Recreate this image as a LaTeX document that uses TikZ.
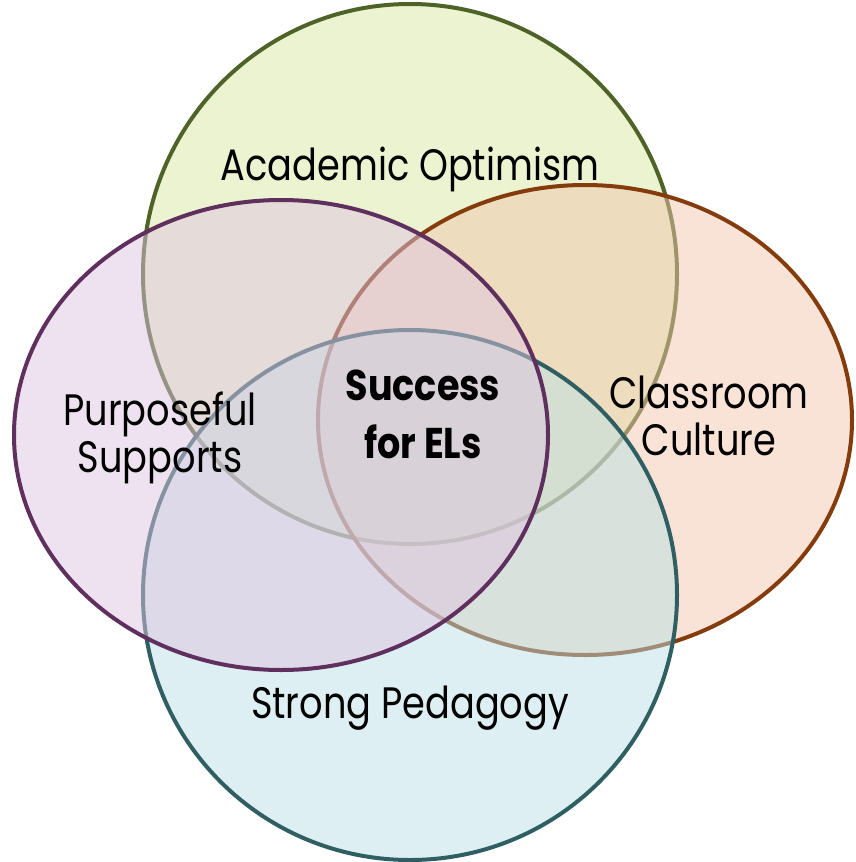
\documentclass[tikz,border=0pt]{standalone}
\usepackage{fontspec}
\usepackage{graphicx}
\setmainfont{Poppins}
\definecolor{optFill}{HTML}{D7E7A3}
\definecolor{optLine}{HTML}{4F6228}
\definecolor{culFill}{HTML}{F1C7AD}
\definecolor{culLine}{HTML}{843C0C}
\definecolor{pedFill}{HTML}{BBDFE5}
\definecolor{pedLine}{HTML}{2F5F62}
\definecolor{supFill}{HTML}{DFC5E1}
\definecolor{supLine}{HTML}{5F2F5E}
% narrower setting of the labels
\newcommand\tight[1]{\scalebox{0.835}[1]{#1}}
\newcommand\tightb[1]{\scalebox{0.85}[1]{#1}}
\tikzset{
  venn/.style={line width=4pt, fill opacity=0.5, draw opacity=1},
  lbl/.style={align=center, inner sep=0pt, font=\fontsize{44}{47}\selectfont},
  core/.style={align=center, inner sep=0pt, font=\fontsize{43}{58}\selectfont\bfseries}
}
\begin{document}
\begin{tikzpicture}[x=1pt, y=-1pt]
\useasboundingbox (0,0) rectangle (855,862);
% four overlapping circles, back to front
\draw[venn, draw=optLine, fill=optFill] (410,274) ellipse [x radius=267, y radius=270];
\draw[venn, draw=culLine, fill=culFill] (585,420) ellipse [x radius=267, y radius=235];
\draw[venn, draw=pedLine, fill=pedFill] (410,595) ellipse [x radius=267, y radius=265];
\draw[venn, draw=supLine, fill=supFill] (281,435) ellipse [x radius=267, y radius=235];
% labels (base anchor sits on the last line)
\node[lbl, anchor=base] (opt) at (410,180) {\tight{Academic Optimism}};
\node[lbl, anchor=base] (sup) at (160,472) {\tight{Purposeful}\\\tight{Supports}};
\node[lbl, anchor=base] (cul) at (709,455) {\tight{Classroom}\\\tight{Culture}};
\node[lbl, anchor=base] (ped) at (410,718) {\tight{Strong Pedagogy}};
\node[core, anchor=base] (core) at (423,458) {\tightb{Success}\\\tightb{for ELs}};
\end{tikzpicture}
\end{document}
